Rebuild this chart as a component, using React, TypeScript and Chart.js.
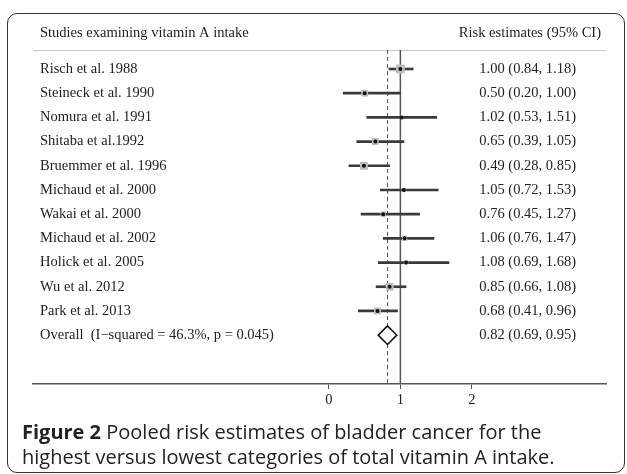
import React, { useEffect, useRef } from "react";
import { Chart, registerables } from "chart.js";

Chart.register(...registerables);

const studies = [
  "Risch et al. 1988",
  "Steineck et al. 1990",
  "Nomura et al. 1991",
  "Shitaba et al.1992",
  "Bruemmer et al. 1996",
  "Michaud et al. 2000",
  "Wakai et al. 2000",
  "Michaud et al. 2002",
  "Holick et al. 2005",
  "Wu et al. 2012",
  "Park et al. 2013",
];
const estimates = [1.0, 0.5, 1.02, 0.65, 0.49, 1.05, 0.76, 1.06, 1.08, 0.85, 0.68];
const lowerCI = [0.84, 0.2, 0.53, 0.39, 0.28, 0.72, 0.45, 0.76, 0.69, 0.66, 0.41];
const upperCI = [1.18, 1.0, 1.51, 1.05, 0.85, 1.53, 1.27, 1.47, 1.68, 1.08, 0.96];
// relative study weights (drives grey box size)
const weights = [8, 6, 2.5, 6, 7, 3.5, 4.5, 4.5, 3.5, 7, 6];

const overallLabel = "Overall  (I\u2212squared = 46.3%, p = 0.045)";
const overallEstimate = 0.82;
const overallLower = 0.69;
const overallUpper = 0.95;

const xTicks = [0, 1, 2];
const headerLeft = "Studies examining vitamin A intake";
const headerRight = "Risk estimates (95% CI)";

const fmt = (v: number) => v.toFixed(2);

export default function App() {
  const ref = useRef<HTMLCanvasElement | null>(null);

  useEffect(() => {
    const canvas = ref.current;
    if (!canvas) return;
    const serif = "'Liberation Serif', 'Times New Roman', serif";
    const fontSize = 14.5;

    const rowLabels = [...studies, overallLabel];
    const rowValues = [
      ...estimates.map((e, i) => `${fmt(e)} (${fmt(lowerCI[i])}, ${fmt(upperCI[i])})`),
      `${fmt(overallEstimate)} (${fmt(overallLower)}, ${fmt(overallUpper)})`,
    ];
    const yMin = -0.785;
    const yMax = 13.02;

    const headerPlugin = {
      id: "header",
      beforeDatasetsDraw(chart: any) {
        const { ctx, chartArea } = chart;
        ctx.save();
        ctx.font = `${fontSize}px ${serif}`;
        ctx.fillStyle = "#222";
        ctx.textBaseline = "middle";
        ctx.textAlign = "left";
        ctx.fillText(headerLeft, chartArea.left + 7, 33);
        ctx.textAlign = "right";
        ctx.fillText(headerRight, chartArea.right - 5, 33);
        ctx.strokeStyle = "#c8c8c8";
        ctx.lineWidth = 1;
        ctx.beginPath();
        ctx.moveTo(chartArea.left, chartArea.top + 0.5);
        ctx.lineTo(chartArea.right, chartArea.top + 0.5);
        ctx.stroke();
        ctx.restore();
      },
    };

    const yCommon = {
      type: "linear",
      reverse: true,
      offset: false,
      min: yMin,
      max: yMax,
      afterFit: (s: any) => {
        s.width = 0;
      },
      grid: { display: false },
      border: { display: false },
    };

    const chart = new Chart(canvas, {
      type: "scatter",
      data: {
        datasets: [
          {
            type: "line",
            label: "null line",
            data: [
              { x: 1, y: yMin },
              { x: 1, y: yMax },
            ],
            borderColor: "#555",
            borderWidth: 1.5,
            pointRadius: 0,
            order: 5,
          } as any,
          {
            type: "line",
            label: "overall line",
            data: [
              { x: overallEstimate, y: yMin },
              { x: overallEstimate, y: yMax - 0.05 },
            ],
            borderColor: "#555",
            borderWidth: 1,
            borderDash: [4, 3],
            pointRadius: 0,
            order: 4,
          } as any,
          {
            type: "bar",
            label: "CI",
            indexAxis: "y",
            data: estimates.map((_, i) => ({ x: [lowerCI[i], upperCI[i]], y: i })),
            backgroundColor: "#3a3a3a",
            borderWidth: 0,
            barThickness: 2,
            order: 3,
          } as any,
          {
            label: "weights",
            data: estimates.map((e, i) => ({ x: e, y: i })),
            pointStyle: "rect",
            pointRadius: weights.map((w) => w * 0.7071 + 0.6),
            backgroundColor: "#bdbdbd",
            borderWidth: 0,
            order: 2,
          } as any,
          {
            label: "estimates",
            data: estimates.map((e, i) => ({ x: e, y: i })),
            pointStyle: "circle",
            pointRadius: 2,
            backgroundColor: "#111",
            borderWidth: 0,
            order: 1,
          } as any,
          {
            label: "overall",
            data: [{ x: overallEstimate, y: studies.length }],
            pointStyle: "rectRot",
            pointRadius: ((overallUpper - overallLower) / 2) * 71.4,
            backgroundColor: "#fff",
            borderColor: "#111",
            borderWidth: 1.5,
            order: 0,
          } as any,
        ],
      },
      options: {
        responsive: false,
        animation: false,
        events: [],
        layout: { padding: { left: 33, right: 21, top: 50, bottom: 50 } },
        plugins: { legend: { display: false }, tooltip: { enabled: false }, title: { display: false } },
        scales: {
          x: {
            type: "linear",
            position: "bottom",
            offset: false,
            min: -4.145,
            max: 3.88,
            afterBuildTicks: (s: any) => {
              s.ticks = xTicks.map((v) => ({ value: v }));
            },
            afterFit: (s: any) => {
              s.height = 40;
            },
            grid: { display: true, drawOnChartArea: false, drawTicks: true, tickLength: 5, color: "#555", lineWidth: 1 },
            border: { display: true, color: "#555", width: 1.5 },
            ticks: { font: { family: serif, size: fontSize }, color: "#222", padding: 2, maxRotation: 0 },
          },
          y: {
            ...yCommon,
            position: "left",
            afterBuildTicks: (s: any) => {
              s.ticks = rowLabels.map((_, i) => ({ value: i }));
            },
            ticks: {
              mirror: true,
              padding: 7,
              font: { family: serif, size: fontSize },
              color: "#222",
              callback: (v: any) => rowLabels[Math.round(Number(v))] ?? "",
            },
          },
          y2: {
            ...yCommon,
            position: "right",
            afterBuildTicks: (s: any) => {
              s.ticks = rowValues.map((_, i) => ({ value: i }));
            },
            ticks: {
              mirror: true,
              padding: -30,
              font: { family: serif, size: fontSize },
              color: "#222",
              callback: (v: any) => rowValues[Math.round(Number(v))] ?? "",
            },
          },
        },
      } as any,
      plugins: [headerPlugin],
    });
    return () => chart.destroy();
  }, []);

  return (
    <div style={{ position: "fixed", left: 0, top: 0, width: 627, height: 474, overflow: "hidden", background: "#fff" }}>
      <div
        style={{
          position: "absolute",
          left: 7,
          top: 13,
          width: 618,
          height: 460,
          border: "1.5px solid #333",
          borderRadius: 10,
          boxSizing: "border-box",
        }}
      />
      <canvas ref={ref} width={627} height={474} style={{ position: "absolute", left: 0, top: 0 }} />
      <div
        style={{
          position: "absolute",
          left: 22,
          top: 419,
          fontFamily: "'Open Sans', sans-serif",
          fontSize: 20,
          lineHeight: "25px",
          color: "#222",
          whiteSpace: "nowrap",
        }}
      >
        <b>Figure 2</b> Pooled risk estimates of bladder cancer for the
        <br />
        highest versus lowest categories of total vitamin A intake.
      </div>
    </div>
  );
}
